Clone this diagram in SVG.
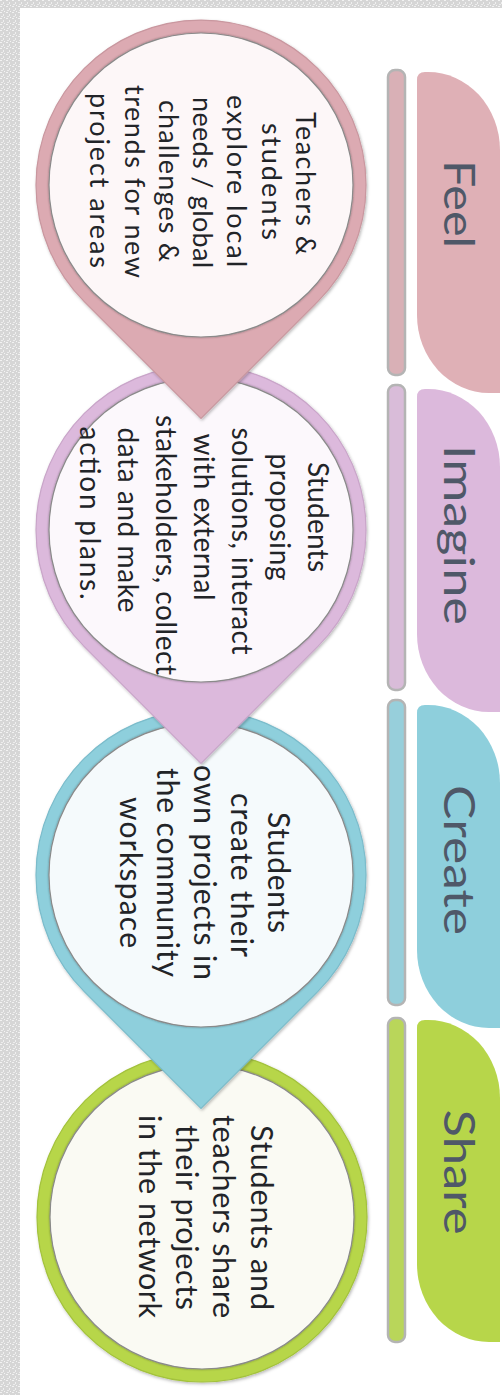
<svg xmlns="http://www.w3.org/2000/svg" width="502" height="1395" viewBox="0 0 502 1395">
<defs>
<pattern id="speck" width="6" height="6" patternUnits="userSpaceOnUse">
<rect width="6" height="6" fill="#d6d6d6"/>
<rect x="0" y="0" width="2" height="1" fill="#f2f2f2"/>
<rect x="3" y="2" width="1" height="2" fill="#efefef"/>
<rect x="1" y="4" width="2" height="1" fill="#ececec"/>
<rect x="4" y="5" width="1" height="1" fill="#f4f4f4"/>
</pattern>
<filter id="sh" x="-10%" y="-10%" width="120%" height="120%">
<feDropShadow dx="1" dy="1.5" stdDeviation="1.5" flood-color="#000" flood-opacity="0.28"/>
</filter>
<filter id="ish" x="-5%" y="-5%" width="110%" height="110%">
<feDropShadow dx="0" dy="0" stdDeviation="1" flood-color="#000" flood-opacity="0.35"/>
</filter>
<style>
.ct{font-family:Lato,"Liberation Sans",sans-serif;fill:#222428;text-anchor:middle}
.tab{font-family:Lato,"Liberation Sans",sans-serif;font-size:42px;fill:#4f5868;text-anchor:middle}
.inner{stroke:#8a8a8a;stroke-width:1.2}
.bar{stroke:#b4b4b4;stroke-width:2.5}
</style>
</defs>
<rect width="502" height="1395" fill="url(#speck)"/>
<rect x="20" y="8" width="482" height="1387" fill="#ffffff"/>

<g id="connectors"/>

<!-- Share -->
<g id="node-share">
<circle cx="202" cy="1217" r="165" fill="#b7d64a" stroke="#a3c23c" stroke-width="1.2" filter="url(#sh)"/>
<circle cx="202" cy="1217" r="152" fill="#fafaf3" class="inner" filter="url(#ish)"/>
<text class="ct" font-size="30.5" transform="translate(251,1217.5) rotate(90)" textLength="185">Students and</text>
<text class="ct" font-size="30.5" transform="translate(213,1216.5) rotate(90)" textLength="203">teachers share</text>
<text class="ct" font-size="30.5" transform="translate(176,1217.5) rotate(90)" textLength="185">their projects</text>
<text class="ct" font-size="30.5" transform="translate(139,1216.5) rotate(90)" textLength="203">in the network</text>
</g>

<!-- Create -->
<g id="node-create">
<path d="M84.3,991.7 A165,165 0 1 1 317.7,991.7 L201,1108.3 Z" fill="#8ecfdc" stroke="#7bbccb" stroke-width="1.2" filter="url(#sh)"/>
<circle cx="201" cy="875" r="152" fill="#f5fafc" class="inner" filter="url(#ish)"/>
<text class="ct" font-size="30" transform="translate(268,872.5) rotate(90)" textLength="121">Students</text>
<text class="ct" font-size="30" transform="translate(231,875) rotate(90)" textLength="164">create their</text>
<text class="ct" font-size="30" transform="translate(194,872.5) rotate(90)" textLength="215">own projects in</text>
<text class="ct" font-size="30" transform="translate(157,872.5) rotate(90)" textLength="209">the community</text>
<text class="ct" font-size="30" transform="translate(120,872.5) rotate(90)" textLength="151">workspace</text>
</g>

<!-- Imagine -->
<g id="node-imagine">
<path d="M84.3,646.7 A165,165 0 1 1 317.7,646.7 L201,763.3 Z" fill="#dcb9dc" stroke="#c9a5c9" stroke-width="1.2" filter="url(#sh)"/>
<circle cx="201" cy="530" r="152" fill="#fcf8fc" class="inner" filter="url(#ish)"/>
<text class="ct" font-size="28" transform="translate(308,517) rotate(90)" textLength="110">Students</text>
<text class="ct" font-size="28" transform="translate(270,517) rotate(90)" textLength="127">proposing</text>
<text class="ct" font-size="28" transform="translate(232,541) rotate(90)" textLength="227">solutions, interact</text>
<text class="ct" font-size="28" transform="translate(194,517) rotate(90)" textLength="167">with external</text>
<text class="ct" font-size="28" transform="translate(156,545) rotate(90)" textLength="260">stakeholders, collect</text>
<text class="ct" font-size="28" transform="translate(118,520) rotate(90)" textLength="185">data and make</text>
<text class="ct" font-size="28" transform="translate(80,513) rotate(90)" textLength="173">action plans.</text>
</g>

<!-- Feel -->
<g id="node-feel">
<path d="M84.3,301.7 A165,165 0 1 1 317.7,301.7 L201,418.3 Z" fill="#dcaab2" stroke="#c9979f" stroke-width="1.2" filter="url(#sh)"/>
<circle cx="201" cy="185" r="152" fill="#fdf7f8" class="inner" filter="url(#ish)"/>
<text class="ct" font-size="27" transform="translate(296,183.5) rotate(90)" textLength="143">Teachers &amp;</text>
<text class="ct" font-size="27" transform="translate(261.7,181.5) rotate(90)" textLength="117">students</text>
<text class="ct" font-size="27" transform="translate(227.4,181) rotate(90)" textLength="172">explore local</text>
<text class="ct" font-size="27" transform="translate(193.1,182.5) rotate(90)" textLength="171">needs / global</text>
<text class="ct" font-size="27" transform="translate(158.8,181) rotate(90)" textLength="162">challenges &amp;</text>
<text class="ct" font-size="27" transform="translate(124.5,181.5) rotate(90)" textLength="193">trends for new</text>
<text class="ct" font-size="27" transform="translate(90.2,180.5) rotate(90)" textLength="175">project areas</text>
</g>

<!-- Tabs and bars -->
<g id="tab-feel">
<rect x="388" y="70" width="17" height="305" rx="7" fill="#d9b0b6" class="bar"/>
<path d="M417,80 Q417,72 425,72 L428,72 A72,78 0 0 1 500,150 L500,393 L489,393 A72,78 0 0 1 417,315 Z" fill="#dfb0b6"/>
<text class="tab" transform="translate(444,204) rotate(90)" textLength="88" lengthAdjust="spacingAndGlyphs">Feel</text>
</g>
<g id="tab-imagine">
<rect x="388" y="385" width="17" height="305" rx="7" fill="#d9bcd9" class="bar"/>
<path d="M417,397 Q417,389 425,389 L428,389 A72,78 0 0 1 500,467 L500,712 L489,712 A72,78 0 0 1 417,634 Z" fill="#dcb9dc"/>
<text class="tab" transform="translate(444,535) rotate(90)" textLength="180" lengthAdjust="spacingAndGlyphs">Imagine</text>
</g>
<g id="tab-create">
<rect x="388" y="700" width="17" height="305" rx="7" fill="#97cfdb" class="bar"/>
<path d="M417,713 Q417,705 425,705 L428,705 A72,78 0 0 1 500,783 L500,1028 L489,1028 A72,78 0 0 1 417,950 Z" fill="#8ecfdc"/>
<text class="tab" transform="translate(444,860) rotate(90)" textLength="150" lengthAdjust="spacingAndGlyphs">Create</text>
</g>
<g id="tab-share">
<rect x="388" y="1018" width="17" height="324" rx="7" fill="#b9d65a" class="bar"/>
<path d="M417,1028 Q417,1020 425,1020 L428,1020 A72,78 0 0 1 500,1098 L500,1342 L489,1342 A72,78 0 0 1 417,1264 Z" fill="#b7d64a"/>
<text class="tab" transform="translate(444,1172) rotate(90)" textLength="125" lengthAdjust="spacingAndGlyphs">Share</text>
</g>
</svg>
